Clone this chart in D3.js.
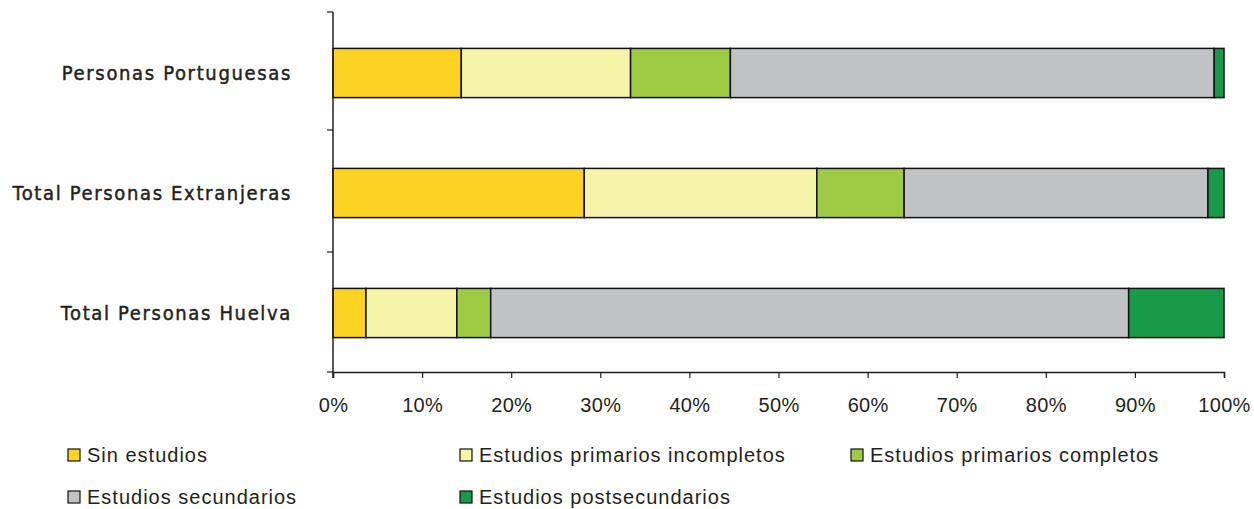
<!doctype html>
<html>
<head>
  <meta charset="utf-8">
  <title>Nivel de estudios</title>
  <style>
  body { margin: 0; background: #fff; }
  .cat { font-family: "DejaVu Sans Condensed", "DejaVu Sans", sans-serif; font-size: 20px; fill: #231f20; stroke: #231f20; stroke-width: 0.45px; }
  .leg { font-family: "Liberation Sans", Arial, sans-serif; font-size: 20px; fill: #231f20; }
  </style>
</head>
<body>
  <div id="vis"></div>
  <script src="https://d3js.org/d3.v7.min.js"></script>
  <script>
  var categories = ['Personas Portuguesas', 'Total Personas Extranjeras', 'Total Personas Huelva'];
  var series = ['Sin estudios', 'Estudios primarios incompletos', 'Estudios primarios completos',
                'Estudios secundarios', 'Estudios postsecundarios'];
  var colors = ['#fdd323', '#f5f4a8', '#9dcb43', '#c1c2c4', '#179b48'];
  // percentages per category, in series order
  var sinEstudios   = [14.4, 28.2, 3.7];
  var primInc       = [19.0, 26.1, 10.2];
  var primComp      = [11.2, 9.8, 3.8];
  var secundarios   = [54.3, 34.1, 71.6];
  var postsec       = [1.1, 1.8, 10.7];
  var ticks = [0, 10, 20, 30, 40, 50, 60, 70, 80, 90, 100];

  var width = 1254, height = 509;
  var svg = d3.select('#vis').append('svg')
    .attr('width', width).attr('height', height);

  var x = d3.scaleLinear().domain([0, 100]).range([333, 1224]);
  var y = d3.scaleBand().domain(categories).range([13, 373])
    .paddingInner(0.59).paddingOuter(0.295);

  var rows = categories.map(function(c, i){
    return { cat: c, vals: [sinEstudios[i], primInc[i], primComp[i], secundarios[i], postsec[i]] };
  });

  var segs = [];
  rows.forEach(function(r){
    var acc = 0;
    r.vals.forEach(function(v, j){
      segs.push({ cat: r.cat, x0: acc, x1: acc + v, k: j });
      acc += v;
    });
  });

  svg.selectAll('rect.seg').data(segs).enter().append('rect')
    .attr('class', 'seg')
    .attr('x', function(d){ return x(d.x0); })
    .attr('y', function(d){ return y(d.cat); })
    .attr('width', function(d){ return x(d.x1) - x(d.x0); })
    .attr('height', y.bandwidth())
    .attr('fill', function(d){ return colors[d.k]; })
    .attr('stroke', '#111')
    .attr('stroke-width', 1.5);

  // x axis
  var xAxis = svg.append('g').attr('transform', 'translate(0,372)')
    .call(d3.axisBottom(x).tickValues(ticks).tickSize(6).tickFormat(function(d){ return d + '%'; }));
  xAxis.select('.domain').attr('stroke', '#231f20').attr('stroke-width', 1.5);
  xAxis.selectAll('.tick line').attr('stroke', '#231f20').attr('stroke-width', 1.2);
  xAxis.selectAll('.tick text').attr('dy', null).attr('y', 40)
    .style('font-family', '"Liberation Sans", Arial, sans-serif').style('font-size', '20px')
    .style('letter-spacing', '0.3px').attr('fill', '#231f20');

  // y axis: line with ticks between categories
  var yTicks = [12, 130, 252, 372];
  svg.append('line').attr('x1', 333).attr('x2', 333).attr('y1', 12).attr('y2', 378)
    .attr('stroke', '#231f20').attr('stroke-width', 1.5);
  svg.selectAll('line.ytk').data(yTicks).enter().append('line')
    .attr('class', 'ytk')
    .attr('x1', 327).attr('x2', 333)
    .attr('y1', function(d){ return d; }).attr('y2', function(d){ return d; })
    .attr('stroke', '#231f20').attr('stroke-width', 1.2);

  svg.selectAll('text.cat').data(categories).enter().append('text')
    .attr('class', 'cat')
    .attr('x', 292)
    .attr('y', function(d){ return y(d) + y.bandwidth() / 2; })
    .attr('dy', '0.35em')
    .attr('text-anchor', 'end')
    .style('letter-spacing', '1.65px')
    .text(function(d){ return d; });

  // legend
  var legPos = [[68, 455], [460, 455], [851, 455], [68, 497], [460, 497]];
  var leg = svg.selectAll('g.leg').data(series).enter().append('g')
    .attr('transform', function(d, i){ return 'translate(' + legPos[i][0] + ',' + legPos[i][1] + ')'; });
  leg.append('rect')
    .attr('x', 0).attr('y', -6).attr('width', 12).attr('height', 12)
    .attr('fill', function(d, i){ return colors[i]; })
    .attr('stroke', '#111').attr('stroke-width', 1.2);
  leg.append('text').attr('class', 'leg')
    .attr('x', 19).attr('y', 0).attr('dy', '0.35em')
    .style('letter-spacing', '1px')
    .text(function(d){ return d; });
  </script>
</body>
</html>
